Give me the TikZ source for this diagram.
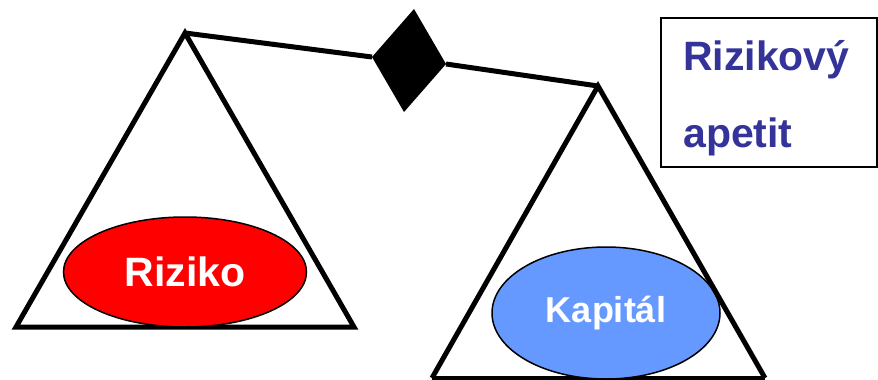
\documentclass[tikz,border=0pt]{standalone}
\usepackage{fontspec}
\setmainfont{Liberation Sans}
\usepackage{tikz}
\usetikzlibrary{calc, shapes.geometric}

\definecolor{apetitblue}{RGB}{51,51,153}
\definecolor{kapitalblue}{RGB}{102,153,255}

\tikzset{
  pan/.style={line width=5pt, line join=miter},
  weight/.style={ellipse, draw=black, line width=1.5pt, inner sep=0pt, text=white, font=\bfseries},
  bigtext/.style={font=\fontsize{41}{49}\selectfont\bfseries},
}

\begin{document}
\begin{tikzpicture}[x=1pt, y=-1pt]
            \useasboundingbox (0,0) rectangle (878,380);
            \coordinate (A) at (185,33);
            \coordinate (B) at (16,327);
            \coordinate (C) at (354,327);
            \coordinate (D) at (598,86);
            \coordinate (E) at (432,378);
            \coordinate (F) at (765,378);
            \coordinate (P) at (414,9);
            \coordinate (Q) at (372,57);
            \coordinate (R) at (404,112);
            \coordinate (S) at (446,64);
            % scales
            \draw[pan] (A) -- (Q);
            \draw[pan] (S) -- (D);
            \fill (P) -- (Q) -- (R) -- (S) -- cycle;
            \draw[pan] (A) -- (B) -- (C) -- cycle;
            \draw[pan] (E) -- (F);
            \node[weight, fill=red, minimum width=243pt, minimum height=110pt,
                  font=\fontsize{41}{49}\selectfont\bfseries] (riziko) at (185,272) {Riziko};
            \node[weight, fill=kapitalblue, minimum width=228pt, minimum height=132pt,
                  font=\fontsize{36}{43}\selectfont\bfseries] (kapital) at (606,313) {Kapitál};
            \draw[pan] (E) -- (D) -- (F);
            % label box
            \draw[line width=2pt] (661,18) rectangle (877,167);
            \node[bigtext, text=apetitblue, anchor=base west, inner sep=0pt] (rizikovy) at (683,70) {Rizikový};
            \node[bigtext, text=apetitblue, anchor=base west, inner sep=0pt] (apetit) at (683,147) {apetit};
        \end{tikzpicture}
\end{document}
